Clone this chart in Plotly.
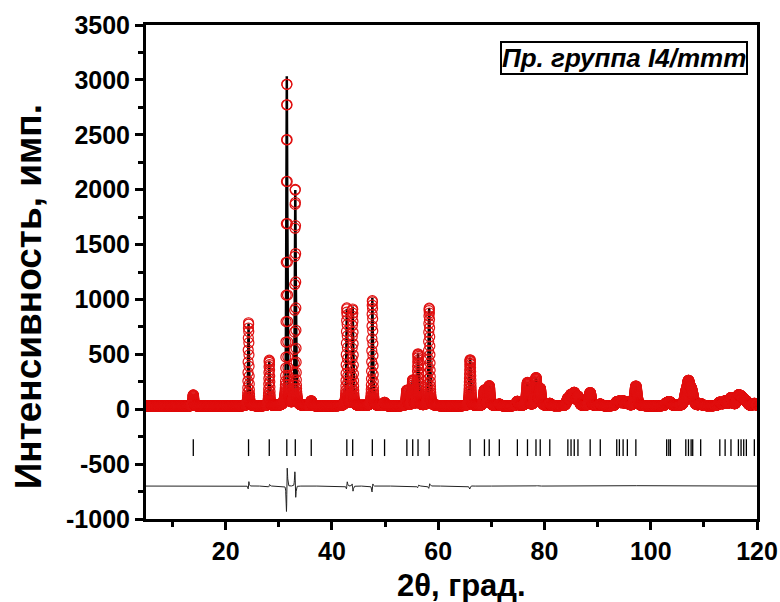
import numpy as np
import plotly.graph_objects as go

# ---- data ----
two_theta_start, two_theta_end, two_theta_step = 5.0, 120.0, 0.02
background = 30.0

# peak positions (2theta), observed heights, calculated heights, FWHM, observed position offset
peak_pos = [13.9, 24.3, 28.2, 31.5, 33.1, 36.1, 42.8, 43.9, 47.6, 49.9,
            54.1, 55.2, 56.2, 58.3, 66.0, 68.7, 69.6, 71.5, 74.9, 76.8,
            78.4, 79.2, 81.0, 84.4, 85.0, 85.6, 86.3, 88.6, 90.5, 93.6,
            94.1, 94.8, 95.6, 97.2, 103.0, 103.4, 103.7, 106.6, 107.1, 107.6,
            107.9, 109.4, 113.0, 114.0, 115.1, 116.5, 117.0, 117.5, 118.0, 119.5]
peak_obs = [100, 760, 415, 2950, 1980, 45, 890, 880, 960, 30,
            140, 230, 470, 890, 420, 140, 180, 15, 40, 210,
            250, 150, 20, 60, 90, 110, 80, 120, 15, 30,
            35, 40, 30, 180, 20, 20, 20, 90, 190, 100,
            50, 15, 30, 40, 70, 80, 60, 40, 30, 20]
peak_calc = [95, 750, 410, 3000, 1960, 45, 880, 900, 985, 30,
             140, 230, 475, 890, 440, 140, 180, 15, 40, 210,
             250, 150, 20, 60, 90, 110, 80, 120, 15, 30,
             35, 40, 30, 180, 20, 20, 20, 90, 190, 100,
             50, 15, 30, 40, 70, 80, 60, 40, 30, 20]
peak_fwhm = [0.25, 0.18, 0.2, 0.2, 0.2, 0.3, 0.22, 0.22, 0.22, 0.3,
             0.3, 0.3, 0.28, 0.28, 0.3, 0.4, 0.4, 0.4, 0.45, 0.45,
             0.45, 0.45, 0.45, 0.5, 0.5, 0.5, 0.5, 0.5, 0.5, 0.55,
             0.55, 0.55, 0.55, 0.55, 0.6, 0.6, 0.6, 0.6, 0.6, 0.6,
             0.6, 0.6, 0.65, 0.65, 0.65, 0.65, 0.65, 0.65, 0.65, 0.65]
peak_shift = [0, 0.006, 0.004, 0.01, -0.009, 0, 0.006, -0.006, 0.006, 0,
              0, 0, 0.005, 0.005, 0.006, 0, 0, 0, 0, 0,
              0.006, 0, 0, 0, 0, 0, 0, 0, 0, 0,
              0, 0, 0, 0.008, 0, 0, 0, 0.008, 0, 0,
              0, 0, 0, 0, 0, 0, 0, 0, 0, 0]

bragg_pos = [13.9, 24.3, 28.2, 31.5, 33.1, 36.1, 42.8, 43.9, 47.6, 49.9,
             54.1, 55.2, 56.2, 58.3, 66.0, 68.7, 69.6, 71.5, 74.9, 76.8,
             78.4, 79.2, 81.0, 84.4, 85.0, 85.6, 86.3, 88.6, 90.5, 93.6,
             94.1, 94.8, 95.6, 97.2, 103.0, 103.4, 103.7, 106.6, 107.1, 107.6,
             107.9, 109.4, 113.0, 114.0, 115.1, 116.5, 117.0, 117.5, 118.0, 119.5]
bragg_level = -350
diff_offset = -700

x_ticks = [20, 40, 60, 80, 100, 120]
y_ticks = [-1000, -500, 0, 500, 1000, 1500, 2000, 2500, 3000, 3500]

x_title = "2θ, град."
y_title = "Интенсивность, имп."
phase_label = "Пр. группа I4/mmm"

# ---- build profiles from the peak table ----
tt = np.arange(two_theta_start, two_theta_end + 1e-9, two_theta_step)


def pv(center, height, fwhm, eta=0.5):
    g = np.exp(-4 * np.log(2) * ((tt - center) / fwhm) ** 2)
    l = 1.0 / (1.0 + 4 * ((tt - center) / fwhm) ** 2)
    return height * (eta * l + (1 - eta) * g)


obs = np.full_like(tt, background)
calc = np.full_like(tt, background)
for p, ho, hc, w, s in zip(peak_pos, peak_obs, peak_calc, peak_fwhm, peak_shift):
    obs += pv(p + s, ho, w)
    calc += pv(p, hc, w)
diff = obs - calc + diff_offset

fig = go.Figure()
fig.add_trace(go.Scatter(x=tt, y=calc, mode="lines",
                         line=dict(color="black", width=2.5), name="calc"))
fig.add_trace(go.Scatter(x=tt, y=obs, mode="markers",
                         marker=dict(symbol="circle-open", size=10, color="#e01010",
                                     line=dict(width=1.2, color="#e01010")), name="obs"))
fig.add_trace(go.Scatter(x=bragg_pos, y=[bragg_level] * len(bragg_pos), mode="markers",
                         marker=dict(symbol="line-ns", size=12,
                                     line=dict(width=1.3, color="black")), name="bragg"))
fig.add_trace(go.Scatter(x=tt, y=diff, mode="lines",
                         line=dict(color="#222222", width=1), name="diff"))

FONT = "Liberation Sans, Arial"
tickfont = dict(family=FONT, size=25, color="black", weight="bold")

fig.update_layout(
    width=780, height=602,
    margin=dict(l=146, r=23, t=25, b=83, autoexpand=False),
    paper_bgcolor="white", plot_bgcolor="white",
    showlegend=False,
    xaxis=dict(range=[5, 120], tickvals=x_ticks, ticktext=[str(v) for v in x_ticks],
               ticks="outside", ticklen=8, tickwidth=3, automargin=False,
               tickcolor="black", showline=True, linecolor="black", linewidth=3, mirror=True,
               showgrid=False, zeroline=False, tickfont=tickfont,
               minor=dict(dtick=10, tick0=0, ticks="outside", ticklen=5, tickwidth=3, tickcolor="black")),
    yaxis=dict(range=[-1000, 3500], tickvals=y_ticks, ticktext=[str(v) for v in y_ticks],
               ticks="outside", ticklen=8, tickwidth=3, automargin=False,
               tickcolor="black", showline=True, linecolor="black", linewidth=3, mirror=True,
               showgrid=False, zeroline=False, tickfont=tickfont,
               minor=dict(dtick=250, tick0=0, ticks="outside", ticklen=5, tickwidth=3, tickcolor="black")),
    annotations=[
        dict(text="<b><i>" + phase_label + "</i></b>", xref="paper", yref="paper",
             x=0.985, y=0.968, xanchor="right", yanchor="top", showarrow=False,
             font=dict(family=FONT, size=26, color="black"),
             bordercolor="black", borderwidth=2, borderpad=0, bgcolor="white"),
        dict(text="<b>" + x_title + "</b>", xref="paper", yref="paper",
             x=0.517, y=-0.134, xanchor="center", yanchor="middle", showarrow=False,
             font=dict(family=FONT, size=31, color="black")),
        dict(text="<b>" + y_title + "</b>", xref="paper", yref="paper", textangle=-90,
             x=-0.193, y=0.449, xanchor="center", yanchor="middle", showarrow=False,
             font=dict(family=FONT, size=37, color="black")),
    ],
)

fig.write_html("out.html")
